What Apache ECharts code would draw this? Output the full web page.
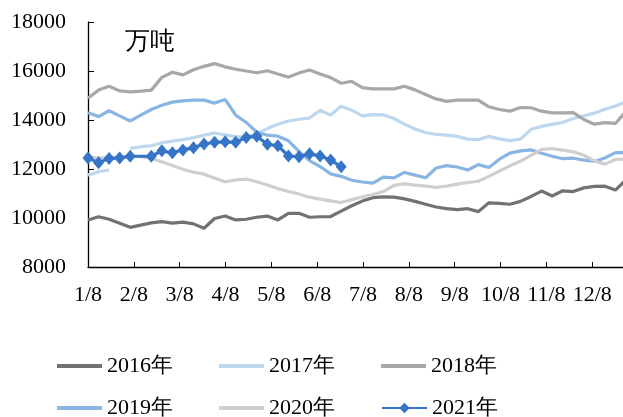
<!DOCTYPE html>
<html>
<head>
<meta charset="utf-8">
<style>
  html, body { margin: 0; padding: 0; background: #ffffff; }
  #chart { width: 623px; height: 417px; }
</style>
<script src="https://cdn.jsdelivr.net/npm/echarts@6/dist/echarts.min.js"></script>
</head>
<body>
<div id="chart"></div>
<script>
// Weekly stock, 万吨; week i is 7*i days after 1/8
const monthLabels = ['1/8', '2/8', '3/8', '4/8', '5/8', '6/8', '7/8', '8/8', '9/8', '10/8', '11/8', '12/8'];
const seriesNames = ['2016年', '2017年', '2018年', '2019年', '2020年', '2021年'];

const y2016 = [9920, 10050, 9950, 9790, 9620, 9710, 9800, 9850, 9790, 9830, 9760, 9580, 9980, 10080, 9920, 9950,
  10030, 10080, 9920, 10190, 10190, 10030, 10050, 10060, 10280, 10500, 10690, 10830, 10860, 10850, 10780, 10680,
  10560, 10450, 10380, 10340, 10380, 10260, 10620, 10600, 10560, 10680, 10880, 11100, 10900, 11110, 11080, 11230,
  11290, 11300, 11140, 11560];
const y2017 = [11750, 11890, 11960, null, 12840, 12910, 12950, 13070, 13140, 13200, 13280, 13380, 13470, 13390, 13320, 13300,
  13440, 13650, 13830, 13960, 14030, 14080, 14400, 14200, 14560, 14400, 14170, 14220, 14210, 14060, 13830, 13630,
  13490, 13410, 13380, 13330, 13220, 13200, 13330, 13230, 13160, 13220, 13620, 13740, 13820, 13900, 14060, 14170,
  14280, 14440, 14570, 14740];
const y2018 = [14890, 15220, 15380, 15190, 15150, 15180, 15220, 15740, 15950, 15840, 16050, 16190, 16300, 16170, 16070, 16000,
  15930, 16010, 15880, 15750, 15920, 16040, 15880, 15730, 15500, 15580, 15320, 15270, 15270, 15270, 15380, 15230,
  15040, 14860, 14760, 14810, 14810, 14810, 14540, 14430, 14360, 14510, 14500, 14360, 14290, 14290, 14300, 14020,
  13830, 13890, 13860, 14360];
const y2019 = [14300, 14140, 14380, 14170, 13960, 14200, 14430, 14600, 14730, 14780, 14810, 14810, 14690, 14840, 14200, 13900,
  13500, 13380, 13340, 13150, 12720, 12340, 12100, 11800, 11700, 11540, 11470, 11420, 11670, 11640, 11860, 11750,
  11640, 12040, 12140, 12080, 11960, 12180, 12060, 12400, 12650, 12740, 12780, 12640, 12520, 12420, 12440, 12360,
  12310, 12450, 12670, 12670];
const y2020 = [12500, 12450, 12480, 12500, 12520, 12500, 12440, 12300, 12140, 11990, 11870, 11790, 11630, 11480, 11550, 11590,
  11480, 11350, 11200, 11080, 10980, 10850, 10770, 10700, 10630, 10750, 10860, 10960, 11080, 11330, 11390, 11340,
  11300, 11250, 11300, 11380, 11450, 11500, 11700, 11920, 12130, 12320, 12560, 12800, 12830, 12770, 12700, 12560,
  12330, 12200, 12390, 12400];
const y2021 = [12450, 12260, 12430, 12450, 12520, null, 12520, 12740, 12660, 12780, 12870, 13020, 13090, 13110, 13090, 13290,
  13340, 13010, 12950, 12530, 12500, 12620, 12530, 12370, 12090];

const colors = ['#767171', '#BDD7EE', '#A9A7A7', '#88B5E3', '#D0CECE', '#3574C6'];
const monthStep = 365 / 12;
const serif = 'Liberation Serif';

function toPoints(values) {
  return values.map((v, i) => [i * 7, v === null ? '-' : v]);
}

const allValues = [y2016, y2017, y2018, y2019, y2020, y2021];

const series = allValues.map((vals, k) => {
  const isLatest = k === 5;
  return {
    name: seriesNames[k],
    type: 'line',
    data: toPoints(vals),
    symbol: isLatest ? 'diamond' : 'none',
    symbolSize: isLatest ? [11, 13] : 0,
    showSymbol: isLatest,
    connectNulls: isLatest,
    smooth: false,
    lineStyle: { color: colors[k], width: 3.2 },
    itemStyle: { color: colors[k] },
    emphasis: { disabled: true },
    animation: false,
    z: 2 + k
  };
});

// one legend block per entry, laid out in a 3 x 2 grid
const legendCols = [57, 219, 381];
const legendRows = [355, 397];
const legends = seriesNames.map((name, k) => {
  const lg = {
    data: [name],
    left: legendCols[k % 3],
    top: legendRows[Math.floor(k / 3)],
    padding: 0,
    itemWidth: 45,
    itemHeight: 13,
    itemGap: 0,
    selectedMode: false,
    textStyle: { fontFamily: serif, fontSize: 22, color: '#000' }
  };
  if (k !== 5) {
    // plain line key for the series drawn without markers
    lg.icon = 'rect';
    lg.itemHeight = 4;
    lg.itemStyle = { color: colors[k] };
  }
  return lg;
});

const chart = echarts.init(document.getElementById('chart'), null, { renderer: 'canvas' });
chart.setOption({
  animation: false,
  backgroundColor: '#ffffff',
  textStyle: { fontFamily: serif, color: '#000' },
  title: {
    text: '万吨',
    left: 120,
    top: 25,
    textStyle: { fontFamily: serif, fontSize: 25, fontWeight: 'normal', color: '#000' }
  },
  legend: legends,
  grid: { left: 88, right: 0, top: 22, bottom: 150 },
  xAxis: {
    type: 'value',
    min: 0,
    max: 355,
    splitLine: { show: false },
    axisLine: { show: true, lineStyle: { color: '#000', width: 1.3 } },
    axisTick: {
      show: true,
      inside: true,
      length: 5,
      customValues: monthLabels.map((_, i) => i * monthStep),
      lineStyle: { color: '#000' }
    },
    axisLabel: {
      customValues: monthLabels.map((_, i) => i * monthStep),
      formatter: v => monthLabels[Math.round(v / monthStep)],
      margin: 17,
      fontFamily: serif,
      fontSize: 22,
      color: '#000'
    }
  },
  yAxis: {
    type: 'value',
    min: 8000,
    max: 18000,
    interval: 2000,
    splitLine: { show: false },
    axisLine: { show: true, lineStyle: { color: '#000', width: 1.3 } },
    axisTick: { show: true, inside: true, length: 6, lineStyle: { color: '#000' } },
    axisLabel: {
      margin: 22,
      formatter: v => String(v),
      fontFamily: serif,
      fontSize: 22,
      color: '#000'
    }
  },
  series: series
});
</script>
</body>
</html>
